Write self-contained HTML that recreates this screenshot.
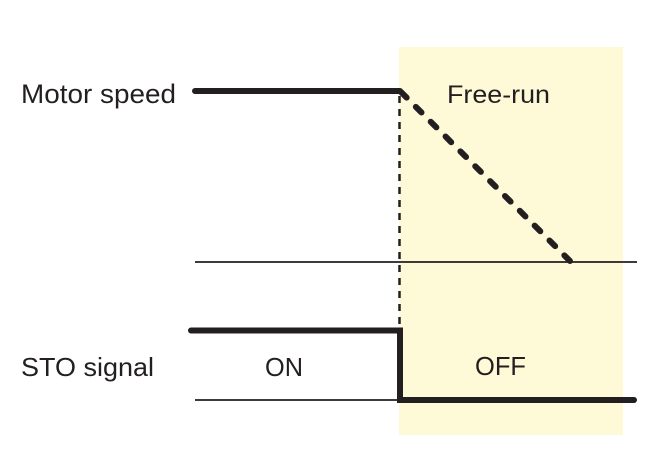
<!DOCTYPE html>
<html>
<head>
<meta charset="utf-8">
<style>
  html, body { margin: 0; padding: 0; background: #ffffff; }
  body { width: 668px; height: 452px; overflow: hidden; }
  svg { display: block; }
  text { font-family: "Liberation Sans", Arial, sans-serif; fill: #231f20; }
</style>
</head>
<body>
<svg width="668" height="452" viewBox="0 0 668 452" xmlns="http://www.w3.org/2000/svg">
  <!-- free-run region -->
  <rect x="399" y="47" width="224" height="388" fill="#fef9d7"/>

  <!-- thin baselines -->
  <line x1="195" y1="262" x2="637" y2="262" stroke="#231f20" stroke-width="1.8"/>
  <line x1="195" y1="400" x2="400" y2="400" stroke="#231f20" stroke-width="1.8"/>

  <!-- dotted vertical guide -->
  <line x1="399.5" y1="96" x2="399.5" y2="330" stroke="#231f20" stroke-width="2.5" stroke-dasharray="7 6"/>

  <!-- motor speed -->
  <line x1="195" y1="91" x2="400" y2="91" stroke="#231f20" stroke-width="6" stroke-linecap="round"/>
  <line x1="570" y1="261" x2="400" y2="91" stroke="#231f20" stroke-width="6" stroke-linecap="round" stroke-dasharray="8 13"/>

  <!-- STO signal -->
  <path d="M191,330.5 L400,330.5 L400,400 L634,400" fill="none" stroke="#231f20" stroke-width="6" stroke-linecap="round" stroke-linejoin="miter"/>

  <!-- labels -->
  <text x="21" y="103" font-size="27" textLength="155" lengthAdjust="spacingAndGlyphs">Motor speed</text>
  <text x="447" y="103" font-size="25" textLength="103" lengthAdjust="spacingAndGlyphs">Free-run</text>
  <text x="21" y="376" font-size="26" textLength="133" lengthAdjust="spacingAndGlyphs">STO signal</text>
  <text x="265" y="376" font-size="26" textLength="38" lengthAdjust="spacingAndGlyphs">ON</text>
  <text x="475" y="375" font-size="26" textLength="51" lengthAdjust="spacingAndGlyphs">OFF</text>
</svg>
</body>
</html>
